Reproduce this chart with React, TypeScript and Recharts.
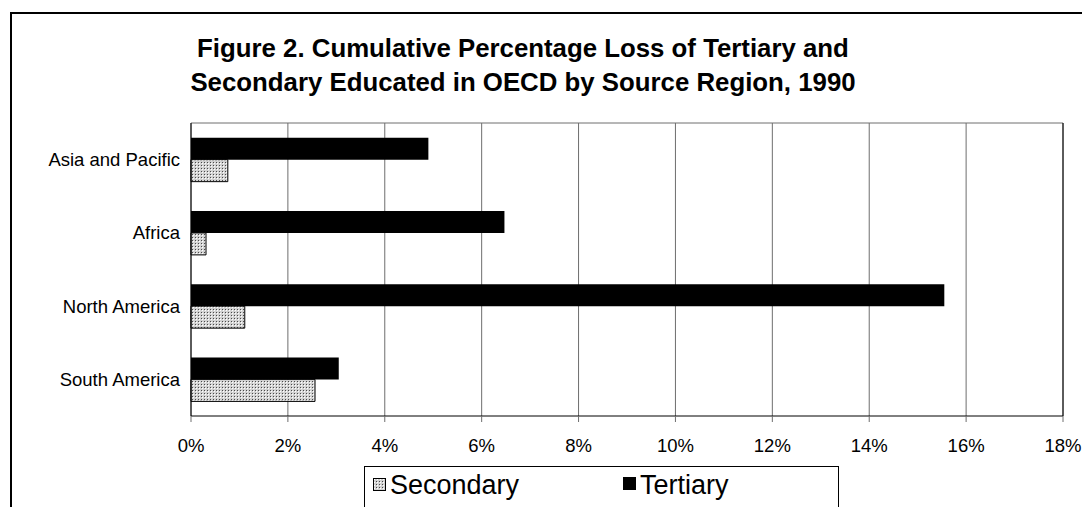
import React from "react";
import { BarChart, Bar, XAxis, YAxis, CartesianGrid, ReferenceLine } from "recharts";

const regions = ["Asia and Pacific", "Africa", "North America", "South America"];
const tertiary = [4.9, 6.47, 15.55, 3.05];
const secondary = [0.76, 0.31, 1.11, 2.56];
const pctTicks = [0, 2, 4, 6, 8, 10, 12, 14, 16, 18];
const titleLines = [
  "Figure 2. Cumulative Percentage Loss of Tertiary and",
  "Secondary Educated in OECD by Source Region, 1990",
];

const data = regions.map((region, i) => ({
  region,
  Tertiary: tertiary[i],
  Secondary: secondary[i],
}));

const font = '"Liberation Sans", Arial, sans-serif';

function DotPattern({ id }: { id: string }) {
  return (
    <pattern id={id} width={3} height={3} patternUnits="userSpaceOnUse">
      <rect width={3} height={3} fill="#d2d2d2" />
      <rect x={0} y={0} width={1} height={1} fill="#4a4a4a" />
      <rect x={1} y={1} width={1} height={1} fill="#ffffff" />
    </pattern>
  );
}

function Swatch({ kind }: { kind: "Secondary" | "Tertiary" }) {
  return (
    <svg width={13} height={13} style={{ display: "block" }}>
      <defs>
        <DotPattern id="legendDots" />
      </defs>
      <rect
        x={0.5}
        y={0.5}
        width={12}
        height={12}
        fill={kind === "Secondary" ? "url(#legendDots)" : "#000"}
        stroke="#000"
      />
    </svg>
  );
}

export default function App() {
  return (
    <div
      style={{
        position: "absolute",
        left: 0,
        top: 0,
        width: 1082,
        height: 507,
        overflow: "hidden",
        background: "#fff",
        fontFamily: font,
      }}
    >
      <div
        style={{
          position: "absolute",
          left: 10,
          top: 12,
          width: 1200,
          height: 600,
          borderLeft: "2px solid #000",
          borderTop: "2px solid #000",
        }}
      />
      <div
        style={{
          position: "absolute",
          left: 0,
          top: 31,
          width: 1046,
          textAlign: "center",
          fontWeight: "bold",
          fontSize: 25.8,
          lineHeight: "34px",
          color: "#000",
        }}
      >
        {titleLines.map((t) => (
          <div key={t}>{t}</div>
        ))}
      </div>
      <div style={{ position: "absolute", left: 0, top: 0 }}>
        <BarChart
          width={1082}
          height={507}
          data={data}
          layout="vertical"
          margin={{ top: 123, right: 19, bottom: 61, left: 10 }}
          barCategoryGap="20%"
          barGap={0}
        >
          <defs>
            <DotPattern id="barDots" />
          </defs>
          <CartesianGrid
            stroke="#6e6e6e"
            horizontalCoordinatesGenerator={({ offset }: any) => [offset.top]}
          />
          <XAxis
            type="number"
            domain={[0, 18]}
            ticks={pctTicks}
            tickFormatter={(v: number) => `${v}%`}
            axisLine={{ stroke: "#000" }}
            tickLine={{ stroke: "#6e6e6e" }}
            tickSize={6}
            tickMargin={17}
            tick={{ fill: "#000", fontSize: 18.5, fontFamily: font }}
            height={30}
          />
          <YAxis
            type="category"
            dataKey="region"
            width={181}
            axisLine={{ stroke: "#000" }}
            tickLine={false}
            tickSize={6}
            tickMargin={5}
            tick={{ fill: "#000", fontSize: 18.5, fontFamily: font }}
          />
          <ReferenceLine x={18} stroke="#000" />
          <Bar dataKey="Tertiary" fill="#000" isAnimationActive={false} />
          <Bar
            dataKey="Secondary"
            fill="url(#barDots)"
            stroke="#000"
            strokeWidth={1}
            isAnimationActive={false}
          />
        </BarChart>
      </div>
      <div
        style={{
          position: "absolute",
          left: 364,
          top: 466,
          width: 473,
          height: 60,
          border: "1px solid #000",
          fontSize: 27,
          lineHeight: "27px",
          color: "#000",
        }}
      >
        <div style={{ position: "absolute", left: 8, top: 11 }}>
          <Swatch kind="Secondary" />
        </div>
        <span style={{ position: "absolute", left: 25, top: 5 }}>Secondary</span>
        <div style={{ position: "absolute", left: 258, top: 10 }}>
          <Swatch kind="Tertiary" />
        </div>
        <span style={{ position: "absolute", left: 275, top: 5 }}>Tertiary</span>
      </div>
    </div>
  );
}
